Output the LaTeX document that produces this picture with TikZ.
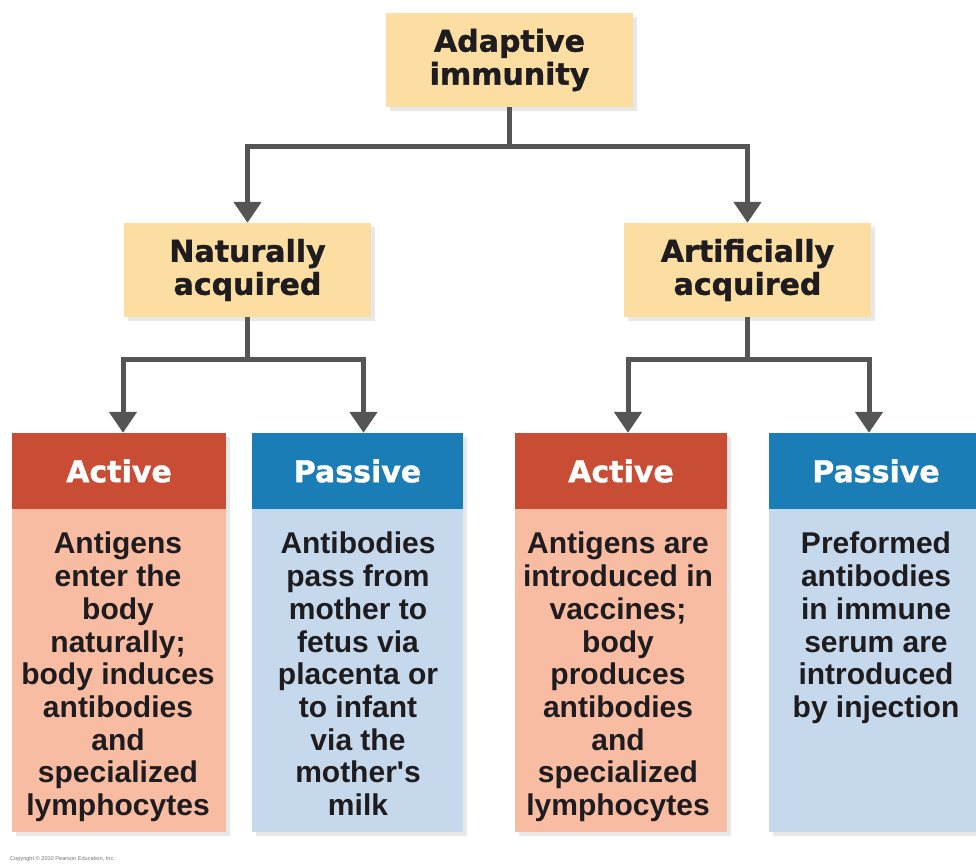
\documentclass[tikz,border=0pt]{standalone}
\usepackage{fontspec}
\setmainfont{Liberation Sans}
\newfontfamily\headfont{DejaVu Sans}[BoldFeatures={FakeBold=1.2}]
\usetikzlibrary{arrows.meta,shadows,calc}
\definecolor{tanfill}{RGB}{252,222,162}
\definecolor{redhdr}{RGB}{201,76,52}
\definecolor{salmon}{RGB}{248,188,162}
\definecolor{bluehdr}{RGB}{26,125,181}
\definecolor{lightblue}{RGB}{198,217,236}
\definecolor{conngray}{RGB}{85,85,85}
\definecolor{textdark}{RGB}{30,28,30}
\tikzset{
  shad/.style={drop shadow={shadow xshift=4pt, shadow yshift=-4pt, opacity=0.2, fill=black!45}},
  tanbox/.style={shad, fill=tanfill, minimum width=247pt, minimum height=94pt, inner sep=0pt,
    font=\headfont\bfseries\fontsize{30}{33}\selectfont, text=textdark, align=center},
  hdrbox/.style={shad, minimum width=#1, minimum height=76pt, inner sep=0pt,
    font=\headfont\bfseries\fontsize{30}{33}\selectfont, text=white},
  bodybox/.style={shad, minimum width=#1, minimum height=323pt, inner sep=0pt},
  bodytext/.style={anchor=north, inner sep=0pt, align=center, text=textdark,
    font=\bfseries\fontsize{30}{32.7}\selectfont},
  conn/.style={draw=conngray, line width=5pt},
  arr/.style={conn, -{Triangle[length=21pt,width=27pt]}},
}
\begin{document}
\begin{tikzpicture}[x=1pt,y=-1pt]
\useasboundingbox (0,0) rectangle (976,866);

% top level
\node[tanbox] (top) at (509.5,60) {Adaptive\\immunity};
\node[tanbox] (nat) at (247.5,270) {Naturally\\acquired};
\node[tanbox] (art) at (747.5,270) {Artificially\\acquired};

% bottom boxes: headers
\node[hdrbox=214pt, fill=redhdr] (ah1) at (119,471) {Active};
\node[hdrbox=211pt, fill=bluehdr] (ph1) at (357.5,471) {Passive};
\node[hdrbox=212pt, fill=redhdr] (ah2) at (621,471) {Active};
\node[hdrbox=214pt, fill=bluehdr] (ph2) at (876,471) {Passive};

% bottom boxes: bodies
\node[bodybox=214pt, fill=salmon, anchor=north] (ab1) at (ah1.south) {};
\node[bodybox=211pt, fill=lightblue, anchor=north] (pb1) at (ph1.south) {};
\node[bodybox=212pt, fill=salmon, anchor=north] (ab2) at (ah2.south) {};
\node[bodybox=214pt, fill=lightblue, anchor=north] (pb2) at (ph2.south) {};

\node[bodytext] (at1) at (118,532) {Antigens\\enter the\\body\\naturally;\\body induces\\antibodies\\and\\specialized\\lymphocytes};
\node[bodytext] (pt1) at (358,532) {Antibodies\\pass from\\mother to\\fetus via\\placenta or\\to infant\\via the\\mother\textquotesingle s\\milk};
\node[bodytext] (at2) at (618,532) {Antigens are\\introduced in\\vaccines;\\body\\produces\\antibodies\\and\\specialized\\lymphocytes};
\node[bodytext] (pt2) at (876,532) {Preformed\\antibodies\\in immune\\serum are\\introduced\\by injection};

% connectors
\draw[conn] (top.south) -- (top.south |- 0,147) coordinate (tj);
\draw[arr] (tj) -| (nat.north);
\draw[arr] (tj) -| (art.north);

\draw[conn] (nat.south) -- (nat.south |- 0,359) coordinate (nj);
\draw[arr] (nj) -| ([xshift=4pt]ah1.north);
\draw[arr] (nj) -| ([xshift=6pt]ph1.north);

\draw[conn] (art.south) -- (art.south |- 0,359) coordinate (aj);
\draw[arr] (aj) -| ([xshift=7pt]ah2.north);
\draw[arr] (aj) -| ([xshift=-7pt]ph2.north);

% copyright
\node[anchor=base west, inner sep=0pt, text=black!55, font=\fontsize{5.6}{6}\selectfont] (copy) at (10,860) {Copyright © 2010 Pearson Education, Inc.};
\end{tikzpicture}
\end{document}
